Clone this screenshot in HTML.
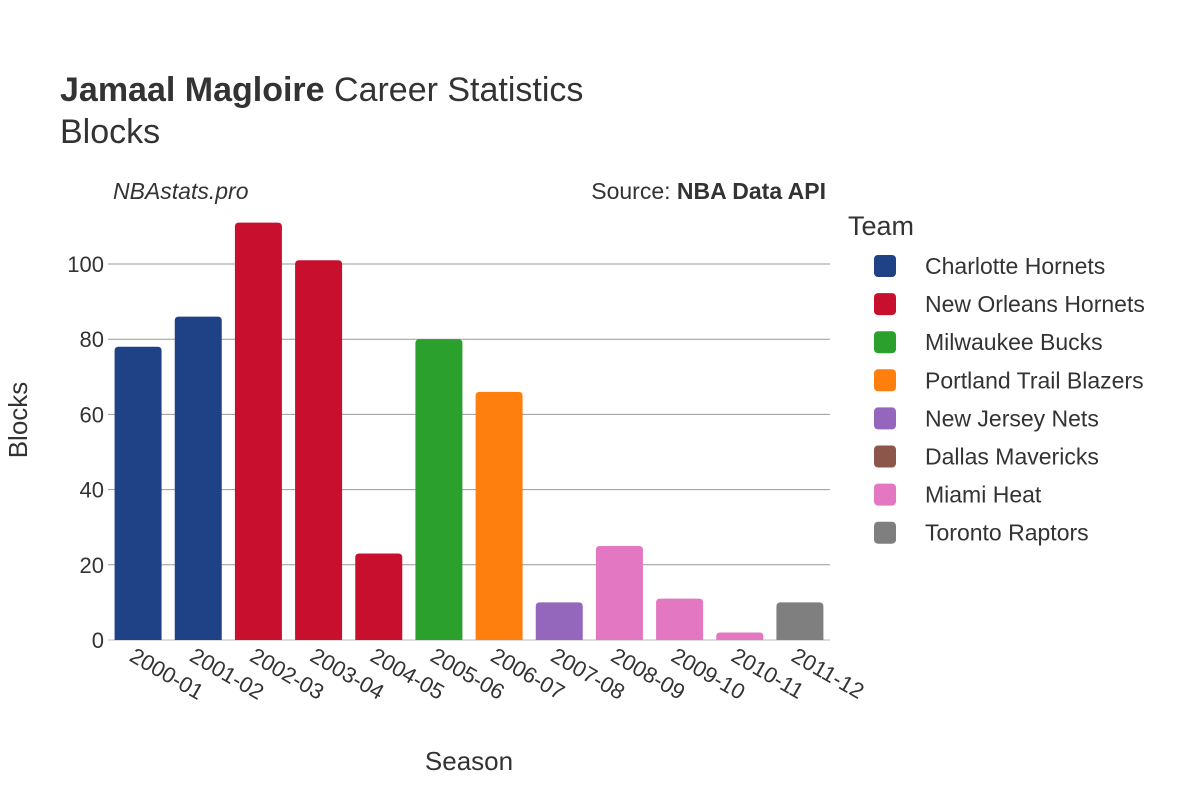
<!DOCTYPE html>
<html><head><meta charset="utf-8"><style>
body{margin:0;background:#fff;}
svg text{font-family:"Liberation Sans","DejaVu Sans",sans-serif;fill:#333;}
</style></head><body>
<svg id="chart" width="1200" height="800" viewBox="0 0 1200 800">
<text x="60" y="101" font-size="34"><tspan font-weight="bold">Jamaal Magloire</tspan> Career Statistics</text>
<text x="60" y="143" font-size="34">Blocks</text>
<text x="113" y="199" font-size="23" font-style="italic">NBAstats.pro</text>
<text x="826" y="199" font-size="23" text-anchor="end">Source: <tspan font-weight="bold">NBA Data API</tspan></text>
<g id="grid"></g>
<g id="bars"></g>
<g id="xticks"></g>
<text x="469" y="770" font-size="26" text-anchor="middle">Season</text>
<text transform="translate(27,420) rotate(-90)" font-size="26" text-anchor="middle">Blocks</text>
<g id="legend"></g>
</svg>
<script>
const seasons=["2000-01","2001-02","2002-03","2003-04","2004-05","2005-06","2006-07","2007-08","2008-09","2009-10","2010-11","2011-12"];
const blocks=[78,86,111,101,23,80,66,10,25,11,2,10];
const teamOf=[0,0,1,1,1,2,3,4,6,6,6,7];
const teams=["Charlotte Hornets","New Orleans Hornets","Milwaukee Bucks","Portland Trail Blazers","New Jersey Nets","Dallas Mavericks","Miami Heat","Toronto Raptors"];
const colors=["#1f4287","#c8102e","#2ca02c","#ff7f0e","#9467bd","#8c564b","#e377c2","#7f7f7f"];
const yTicks=[0,20,40,60,80,100];
const NS="http://www.w3.org/2000/svg";
const L=108,R=830,Y0=640,PX=3.76;
const y=v=>Y0-v*PX;
const slot=(R-L)/seasons.length;
const x=i=>L+slot*(i+0.5);
function mk(t,a,p){const e=document.createElementNS(NS,t);for(const k in a)e.setAttribute(k,a[k]);p.appendChild(e);return e;}
const g=document.getElementById('grid');
yTicks.forEach(v=>{
 const ln=mk('line',{x1:L,x2:R,y1:y(v),y2:y(v),stroke:v===0?'#ddd':'#999','stroke-width':v===0?2:1},g);
 
 
 const t=mk('text',{x:104,y:y(v)+8,'font-size':22,'text-anchor':'end'},g);
 t.textContent=v;
 
 
});
const b=document.getElementById('bars'),xt=document.getElementById('xticks');
const bw=47;
seasons.forEach((s,i)=>{
 const top=y(blocks[i]),h=Y0-top,r=Math.min(4,h/2);
 const x0=x(i)-bw/2;
 const p=mk('path',{d:`M${x0},${Y0}V${top+r}Q${x0},${top} ${x0+r},${top}H${x0+bw-r}Q${x0+bw},${top} ${x0+bw},${top+r}V${Y0}Z`,fill:colors[teamOf[i]]},b);
 
 
 const t=mk('text',{transform:`translate(${x(i)-10},${660}) rotate(30)`,'font-size':22},xt);
 t.textContent=s;
 
 
});
const lg=document.getElementById('legend');
const lt=mk('text',{x:848,y:235,'font-size':27},lg);
lt.textContent='Team';


teams.forEach((tm,i)=>{
 const cy=266+i*38.1;
 const gg=mk('g',{},lg);
 
 
 mk('rect',{x:874,y:cy-11,width:22,height:22,rx:4,fill:colors[i]},gg);
 const t=mk('text',{x:925,y:cy+8,'font-size':23},gg);
 t.textContent=tm;
});
</script>
</body></html>
